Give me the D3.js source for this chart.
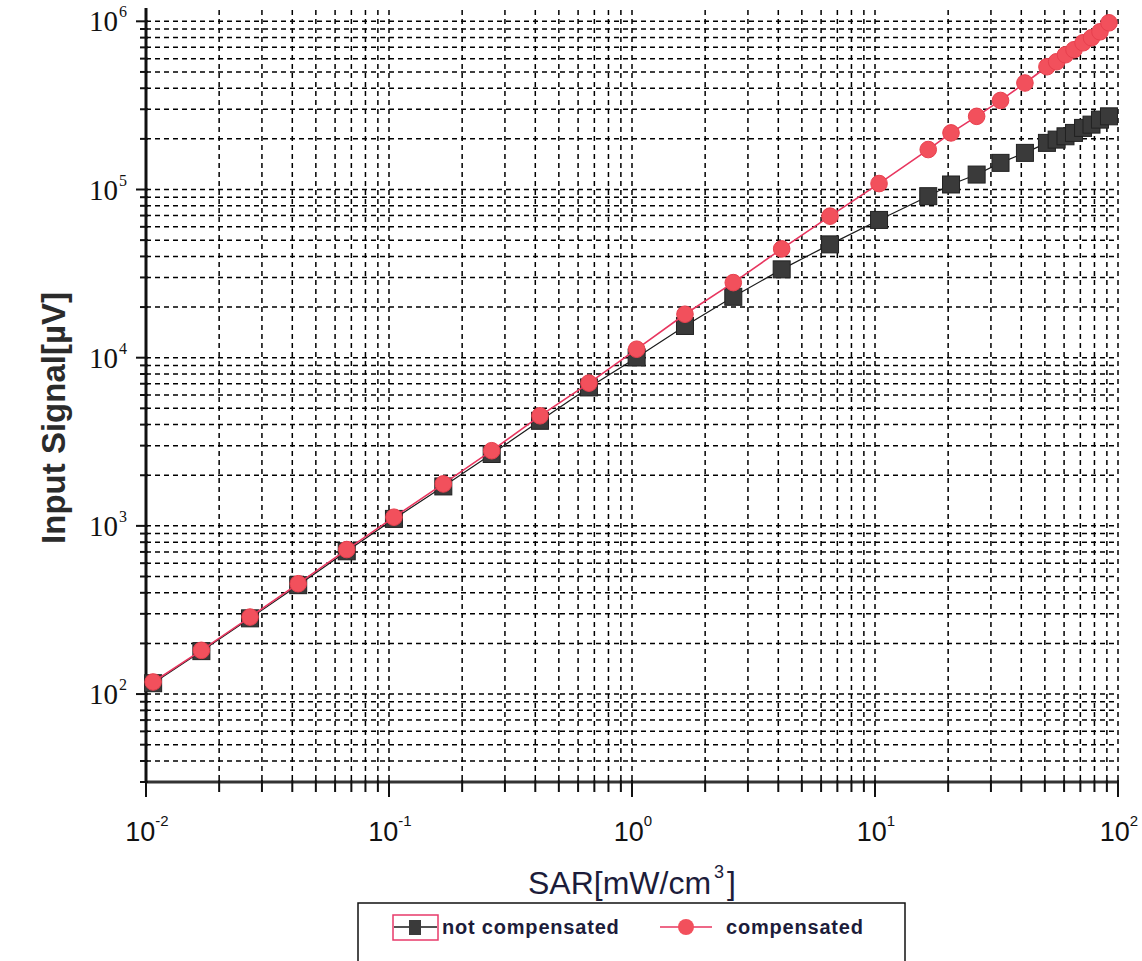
<!DOCTYPE html>
<html>
<head>
<meta charset="utf-8">
<script src="https://cdn.jsdelivr.net/npm/d3@7"></script>
<style>
  html, body { margin: 0; padding: 0; background: #fff; }
  svg { display: block; }
</style>
</head>
<body>
<svg id="chart" width="1142" height="961"></svg>
<script>
// ---------------- data ----------------
const sar = [0.0107, 0.0169, 0.0268, 0.0423, 0.0670, 0.1048, 0.1673, 0.2646, 0.4182, 0.665,
             1.045, 1.652, 2.611, 4.13, 6.53, 10.39, 16.56, 20.55, 26.2, 32.85,
             41.4, 51.0, 55.9, 60.8, 65.9, 71.8, 77.8, 84.3, 91.8];
const notCompensated = [116, 180, 282, 444, 706, 1100, 1716, 2675, 4215, 6655,
                        10030, 15440, 23010, 33510, 47170, 65920, 91250, 107100, 122700, 144000,
                        165100, 189300, 198000, 207200, 217000, 232400, 243100, 260300, 272300];
const compensated = [118, 182, 287, 453, 723, 1126, 1776, 2798, 4514, 7061,
                     11230, 18130, 27950, 44360, 69410, 108500, 172800, 217000, 272300, 338400,
                     429800, 537000, 575000, 632700, 677600, 745500, 798400, 866300, 979700];
const seriesNames = ["not compensated", "compensated"];
const xTickExponents = [-2, -1, 0, 1, 2];
const yTickExponents = [2, 3, 4, 5, 6];
const xTitle = "SAR[mW/cm";
const xTitleSup = "3";
const xTitleEnd = "]";
const yTitle = "Input Signal[µV]";

// ---------------- layout ----------------
const svg = d3.select("#chart");
const pL = 146, pR = 1118, pT = 8, pB = 782;

const x = d3.scaleLog().domain([0.01, 100]).range([pL, pR]);
const y = d3.scaleLog().domain([30, 1.2e6]).range([pB, pT]);

const redFill = "#f2505c", redLine = "#e8365f";
const sqFill = "#3a3a3a";

// grid values
const xGrid = [];
for (let e = -2; e <= 1; e++) for (let k = 1; k <= 9; k++) xGrid.push(k * Math.pow(10, e));
xGrid.push(100);
const yGrid = [];
for (let e = 1; e <= 5; e++) for (let k = 1; k <= 9; k++) {
  const v = k * Math.pow(10, e);
  if (v >= 30) yGrid.push(v);
}
yGrid.push(1e6);

const grid = svg.append("g").attr("stroke", "#000").attr("stroke-width", 1.5)
  .attr("stroke-dasharray", "5,4").attr("fill", "none");
grid.selectAll("line.v").data(xGrid.filter(v => v > 0.0100001)).join("line")
  .attr("class", "v")
  .attr("x1", d => x(d)).attr("x2", d => x(d))
  .attr("y1", pT + 2).attr("y2", pB);
grid.selectAll("line.h").data(yGrid.filter(v => v > 30.0001)).join("line")
  .attr("class", "h")
  .attr("x1", pL).attr("x2", pR)
  .attr("y1", d => y(d)).attr("y2", d => y(d));

// axes lines
svg.append("line").attr("x1", pL).attr("x2", pL).attr("y1", pT).attr("y2", pB + 1)
  .attr("stroke", "#111").attr("stroke-width", 3);
svg.append("line").attr("x1", pL - 1).attr("x2", pR + 1).attr("y1", pB).attr("y2", pB)
  .attr("stroke", "#333").attr("stroke-width", 3);

// ticks
const isMajor = v => Math.abs(Math.log10(v) - Math.round(Math.log10(v))) < 1e-9;
const ticksG = svg.append("g").attr("stroke", "#111").attr("stroke-width", 2);
ticksG.selectAll("line.xt").data(xGrid).join("line")
  .attr("x1", d => x(d)).attr("x2", d => x(d))
  .attr("y1", pB - 2).attr("y2", d => pB + (isMajor(d) ? 15 : 10));
ticksG.selectAll("line.yt").data(yGrid).join("line")
  .attr("y1", d => y(d)).attr("y2", d => y(d))
  .attr("x1", pL + 2).attr("x2", d => pL - (isMajor(d) ? 10 : 6));

// tick labels
const xl = svg.append("g").attr("font-family", "'Liberation Sans', Arial, sans-serif").attr("fill", "#111");
xTickExponents.forEach(e => {
  const t = xl.append("text").attr("x", x(Math.pow(10, e)) + 1).attr("y", 841)
    .attr("text-anchor", "middle").attr("font-size", 27);
  t.append("tspan").text("10");
  t.append("tspan").attr("font-size", 15).attr("dy", -15).text(String(e));
});
const yl = svg.append("g").attr("font-family", "'Liberation Serif', 'Times New Roman', serif").attr("fill", "#111");
yTickExponents.forEach(e => {
  const t = yl.append("text").attr("x", 127).attr("y", y(Math.pow(10, e)) + 10)
    .attr("text-anchor", "end").attr("font-size", 29);
  t.append("tspan").text("10");
  t.append("tspan").attr("font-size", 16).attr("dy", -14).attr("dx", 1).text(String(e));
});

// axis titles
const xt = svg.append("text").attr("x", 632).attr("y", 894).attr("text-anchor", "middle")
  .attr("font-family", "'Liberation Sans', Arial, sans-serif").attr("font-size", 32)
  .attr("fill", "#1c1c3a");
xt.append("tspan").text(xTitle);
xt.append("tspan").attr("font-size", 18).attr("dy", -16).attr("dx", 3).text(xTitleSup);
xt.append("tspan").attr("dy", 16).attr("dx", 3).text(xTitleEnd);

svg.append("text").attr("transform", "translate(65,418) rotate(-90)")
  .attr("text-anchor", "middle").attr("font-family", "'Liberation Sans', Arial, sans-serif")
  .attr("font-weight", "bold").attr("font-size", 33).attr("fill", "#2b2b2b").text(yTitle);

// data lines
const line = d3.line().x(d => x(d[0])).y(d => y(d[1]));
const ncData = sar.map((s, i) => [s, notCompensated[i]]);
const cData = sar.map((s, i) => [s, compensated[i]]);

svg.append("path").datum(ncData).attr("d", line).attr("fill", "none")
  .attr("stroke", "#1a1a1a").attr("stroke-width", 1.2);
svg.selectAll("rect.nc").data(ncData).join("rect").attr("class", "nc")
  .attr("x", d => x(d[0]) - 8.5).attr("y", d => y(d[1]) - 8.5)
  .attr("width", 17).attr("height", 17)
  .attr("fill", sqFill).attr("stroke", "#222").attr("stroke-width", 1);

svg.append("path").datum(cData).attr("d", line).attr("fill", "none")
  .attr("stroke", redLine).attr("stroke-width", 1.6);
svg.selectAll("circle.c").data(cData).join("circle").attr("class", "c")
  .attr("cx", d => x(d[0])).attr("cy", d => y(d[1])).attr("r", 8.3)
  .attr("fill", redFill).attr("stroke", "#e8404e").attr("stroke-width", 1);

// legend
const lg = svg.append("g");
lg.append("rect").attr("x", 358).attr("y", 903).attr("width", 547).attr("height", 70)
  .attr("fill", "#fff").attr("stroke", "#111").attr("stroke-width", 1.5);
// item 1
lg.append("rect").attr("x", 393).attr("y", 915).attr("width", 45).attr("height", 25)
  .attr("fill", "none").attr("stroke", "#e83a6a").attr("stroke-width", 1.5);
lg.append("line").attr("x1", 394).attr("x2", 437).attr("y1", 927).attr("y2", 927)
  .attr("stroke", "#1a1a1a").attr("stroke-width", 1.5);
lg.append("rect").attr("x", 409).attr("y", 920).attr("width", 12).attr("height", 15)
  .attr("fill", sqFill);
lg.append("text").attr("x", 442).attr("y", 934).attr("font-family", "'Liberation Sans', Arial, sans-serif")
  .attr("font-weight", "bold").attr("font-size", 20).attr("letter-spacing", 0.8)
  .attr("fill", "#1c1c3a").text(seriesNames[0]);
// item 2
lg.append("line").attr("x1", 660).attr("x2", 712).attr("y1", 927).attr("y2", 927)
  .attr("stroke", redLine).attr("stroke-width", 1.5);
lg.append("circle").attr("cx", 686).attr("cy", 927).attr("r", 8).attr("fill", redFill);
lg.append("text").attr("x", 726).attr("y", 934).attr("font-family", "'Liberation Sans', Arial, sans-serif")
  .attr("font-weight", "bold").attr("font-size", 20).attr("letter-spacing", 0.8)
  .attr("fill", "#1c1c3a").text(seriesNames[1]);
</script>
</body>
</html>
